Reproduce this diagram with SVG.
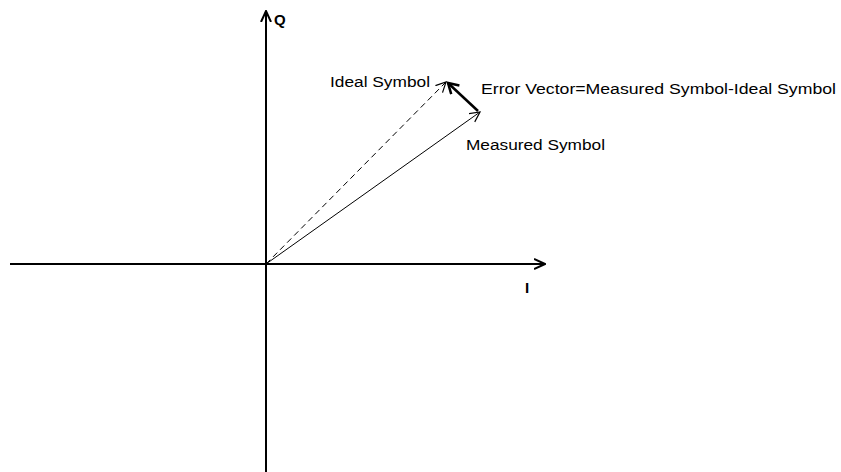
<svg xmlns="http://www.w3.org/2000/svg" width="841" height="472" viewBox="0 0 841 472">
<style>
.t{font-family:"Liberation Sans",Arial,sans-serif;font-size:14px;fill:#000}
.b{font-family:"Liberation Sans",Arial,sans-serif;font-size:15px;font-weight:bold;fill:#000}
.ax{stroke:#000;stroke-width:2;fill:none}
.v{stroke:#000;stroke-width:1;fill:none}
</style>
<defs>
<marker id="open" markerWidth="12" markerHeight="12" refX="10" refY="5" orient="auto" markerUnits="userSpaceOnUse" viewBox="0 0 12 10">
<path d="M0,0 L10,5 L0,10" fill="none" stroke="#000" stroke-width="1.2"/>
</marker>
<marker id="axa" markerWidth="12" markerHeight="12" refX="11" refY="5" orient="auto" markerUnits="userSpaceOnUse" viewBox="0 0 12 10">
<path d="M0,0 L11,5 L0,10" fill="none" stroke="#000" stroke-width="2"/>
</marker>
<marker id="thick" markerWidth="14" markerHeight="14" refX="11" refY="6" orient="auto" markerUnits="userSpaceOnUse" viewBox="0 0 14 12">
<path d="M1,0 L11,6 L1,12" fill="none" stroke="#000" stroke-width="2.5"/>
</marker>
</defs>
<g id="connectors">
<line id="i-axis" class="ax" x1="10" y1="264" x2="545" y2="264" marker-end="url(#axa)"/>
<line id="q-axis" class="ax" x1="266" y1="472" x2="266" y2="11" marker-end="url(#axa)"/>
<line id="ideal-vec" class="v" x1="266" y1="264" x2="446" y2="82" stroke-dasharray="6,4" marker-end="url(#open)"/>
<line id="measured-vec" class="v" x1="266" y1="264" x2="480" y2="112" marker-end="url(#open)"/>
<line id="error-vec" stroke="#000" stroke-width="2.5" x1="478" y1="111" x2="448" y2="83" marker-end="url(#thick)"/>
</g>
<g id="q-label"><text class="b" x="274" y="25">Q</text></g>
<g id="i-label"><text class="b" x="525" y="293">I</text></g>
<g id="ideal-label"><text class="t" x="330" y="87" textLength="100" lengthAdjust="spacingAndGlyphs">Ideal Symbol</text></g>
<g id="error-label"><text class="t" x="481" y="94" textLength="355" lengthAdjust="spacingAndGlyphs">Error Vector=Measured Symbol-Ideal Symbol</text></g>
<g id="measured-label"><text class="t" x="466" y="150" textLength="139" lengthAdjust="spacingAndGlyphs">Measured Symbol</text></g>
</svg>
